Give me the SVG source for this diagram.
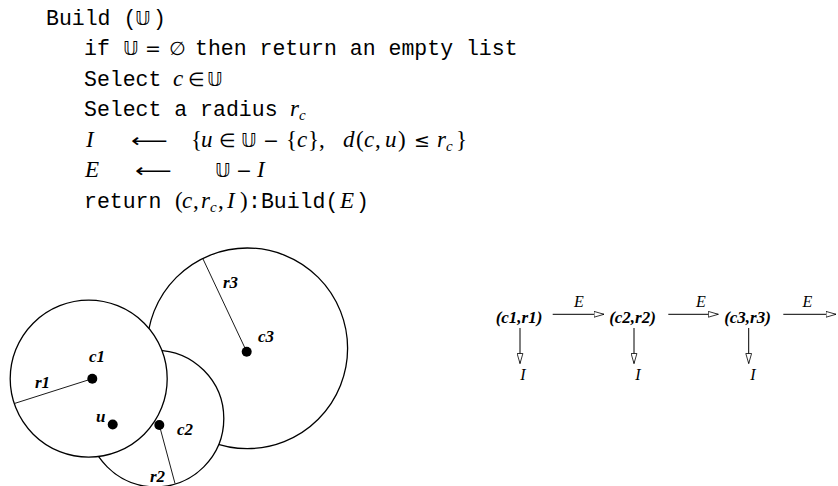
<svg xmlns="http://www.w3.org/2000/svg" width="838" height="486" viewBox="0 0 838 486">
<defs>
<style>
.tt{font-family:"Liberation Mono",monospace;font-size:21.5px;fill:#000}
.m{font-family:"Liberation Serif","DejaVu Serif",serif;font-size:23px;fill:#000}
.i{font-style:italic}
.bb{font-family:"DejaVu Sans",sans-serif;font-size:19px}
.sym{font-family:"DejaVu Sans",sans-serif;font-size:19px}
.sub{font-size:15px}
.lbl{font-family:"Liberation Serif",serif;font-size:17px;font-weight:bold;font-style:italic;fill:#000}
.el{font-family:"Liberation Serif",serif;font-size:16px;font-style:italic;fill:#000}
.circ{fill:#fff;stroke:#000;stroke-width:1.3}
.rad{stroke:#000;stroke-width:0.9;fill:none}
.dot{fill:#000}
.edge{stroke:#000;stroke-width:1;fill:none;marker-end:url(#tri)}
</style>
<marker id="tri" viewBox="0 0 11 7" refX="10.5" refY="3.5" markerWidth="11" markerHeight="7" markerUnits="userSpaceOnUse" orient="auto">
<path d="M0.5,0.6 L10.5,3.5 L0.5,6.4 Z" fill="#fff" stroke="#000" stroke-width="0.8"/>
</marker>
</defs>

<g id="code">
<text class="tt" x="46" y="24.5">Build (</text>
<text class="m bb" x="135" y="24.5">𝕌</text>
<text class="tt" x="153" y="24.5">)</text>

<text class="tt" x="84" y="55">if</text>
<text class="m bb" x="123" y="55">𝕌</text>
<text class="m sym" x="145" y="55">=</text>
<text class="m sym" x="169" y="55">∅</text>
<text class="tt" x="195" y="55">then return an empty list</text>

<text class="tt" x="84" y="85.5">Select</text>
<text class="m i" x="173" y="85.5">c</text>
<text class="m sym" x="188" y="85.5">∈</text>
<text class="m bb" x="207" y="85.5">𝕌</text>

<text class="tt" x="84" y="116">Select a radius</text>
<text class="m i" x="290" y="116">r</text>
<text class="m i sub" x="299" y="120">c</text>

<text class="m i" x="86" y="146.5">I</text>
<text class="m sym" transform="translate(131,146.5) scale(1.35,1)" x="0" y="0">⟵</text>
<text class="m" x="191" y="146.5">{</text>
<text class="m i" x="201" y="146.5">u</text>
<text class="m sym" x="219" y="146.5">∈</text>
<text class="m bb" x="241" y="146.5">𝕌</text>
<text class="m sym" x="263" y="146.5">−</text>
<text class="m" x="286" y="146.5">{</text>
<text class="m i" x="297" y="146.5">c</text>
<text class="m" x="308" y="146.5">},</text>
<text class="m i" x="343" y="146.5">d</text>
<text class="m" x="356" y="146.5">(</text>
<text class="m i" x="364" y="146.5">c</text>
<text class="m" x="375" y="146.5">,</text>
<text class="m i" x="385" y="146.5">u</text>
<text class="m" x="398" y="146.5">)</text>
<text class="m sym" x="414" y="146.5">≤</text>
<text class="m i" x="437" y="146.5">r</text>
<text class="m i sub" x="446" y="150.5">c</text>
<text class="m" x="456" y="146.5">}</text>

<text class="m i" x="85" y="177">E</text>
<text class="m sym" transform="translate(135,177) scale(1.35,1)" x="0" y="0">⟵</text>
<text class="m bb" x="215" y="177">𝕌</text>
<text class="m sym" x="236" y="177">−</text>
<text class="m i" x="257" y="177">I</text>

<text class="tt" x="84" y="207.5">return</text>
<text class="m" x="175" y="207.5">(</text>
<text class="m i" x="182" y="207.5">c</text>
<text class="m" x="193" y="207.5">,</text>
<text class="m i" x="201" y="207.5">r</text>
<text class="m i sub" x="210" y="211.5">c</text>
<text class="m" x="218" y="207.5">,</text>
<text class="m i" x="227" y="207.5">I</text>
<text class="m" x="240" y="207.5">)</text>
<text class="tt" x="248" y="207.5">:Build(</text>
<text class="m i" x="340" y="207.5">E</text>
<text class="tt" x="356" y="207.5">)</text>
</g>

<g id="balls">
<circle class="circ" cx="247.3" cy="348.3" r="100.3"/>
<circle class="circ" cx="155.5" cy="418.6" r="68.3"/>
<circle class="circ" cx="88.7" cy="378.7" r="78.5"/>
<line class="rad" x1="92.3" y1="378.7" x2="15" y2="403.3"/>
<line class="rad" x1="159.3" y1="425" x2="175" y2="483.5"/>
<line class="rad" x1="246.7" y1="351.7" x2="202.7" y2="258.3"/>
<circle class="dot" cx="92.3" cy="378.7" r="5"/>
<circle class="dot" cx="112.7" cy="424.5" r="5"/>
<circle class="dot" cx="159.3" cy="425" r="5"/>
<circle class="dot" cx="246.7" cy="351.7" r="5"/>
<text class="lbl" x="89" y="362">c1</text>
<text class="lbl" x="35" y="388">r1</text>
<text class="lbl" x="96" y="421.5">u</text>
<text class="lbl" x="177" y="435">c2</text>
<text class="lbl" x="150" y="482">r2</text>
<text class="lbl" x="223" y="288">r3</text>
<text class="lbl" x="258" y="341.5">c3</text>
</g>

<g id="n1"><text class="lbl" x="519" y="323" text-anchor="middle">(c1,r1)</text></g>
<g id="n2"><text class="lbl" x="632.5" y="323" text-anchor="middle">(c2,r2)</text></g>
<g id="n3"><text class="lbl" x="747.5" y="323" text-anchor="middle">(c3,r3)</text></g>
<g id="i1"><text class="el" x="523" y="380" text-anchor="middle">I</text></g>
<g id="i2"><text class="el" x="638" y="380" text-anchor="middle">I</text></g>
<g id="i3"><text class="el" x="753" y="380" text-anchor="middle">I</text></g>

<g id="connectors">
<path class="edge" d="M552.7,314.3 H604"/>
<path class="edge" d="M668.3,314.3 H718.3"/>
<path class="edge" d="M783.3,314.3 H836"/>
<path class="edge" d="M520,328 V363.5"/>
<path class="edge" d="M634,328 V363.5"/>
<path class="edge" d="M748.7,328 V363.5"/>
<text class="el" x="579" y="307" text-anchor="middle">E</text>
<text class="el" x="701" y="307" text-anchor="middle">E</text>
<text class="el" x="807.5" y="307" text-anchor="middle">E</text>
</g>
</svg>
